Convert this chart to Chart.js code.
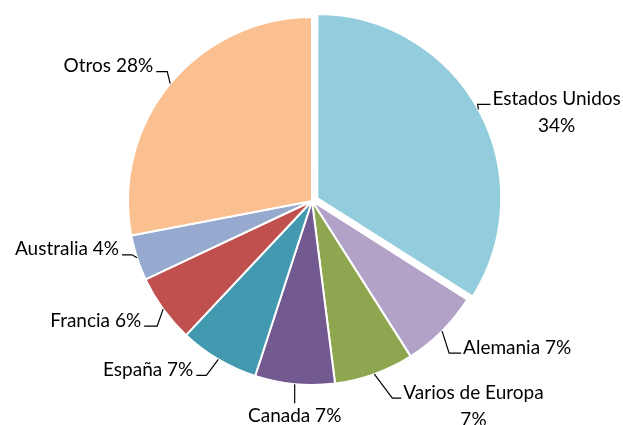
<!DOCTYPE html>
<html>
<head>
<meta charset="utf-8">
<script src="https://cdn.jsdelivr.net/npm/chart.js@4.4.0/dist/chart.umd.min.js"></script>
<style>
  html, body { margin: 0; padding: 0; background: #fff; }
  #wrap { width: 623px; height: 425px; }
</style>
</head>
<body>
<div id="wrap"><canvas id="pie" width="623" height="425"></canvas></div>
<script>
// --- DATA ---
const labels = ['Estados Unidos', 'Alemania', 'Varios de Europa', 'Canada', 'España', 'Francia', 'Australia', 'Otros'];
const shares = [34, 7, 7, 7, 7, 6, 4, 28];
const colors = ['#93CDDD', '#B3A2C7', '#8EA64F', '#725990', '#4399AF', '#C0504D', '#96AACF', '#FAC090'];
const explode = [6, 0, 0, 0, 0, 0, 0, 0]; // pixels the slice is pulled out

// label text lines (second line wraps like in the original)
const labelLines = [
    ['Estados Unidos', '34%'],
    ['Alemania 7%'],
    ['Varios de Europa', '7%'],
    ['Canada 7%'],
    ['España 7%'],
    ['Francia 6%'],
    ['Australia 4%'],
    ['Otros 28%']
];

// leader line shape per slice: elbow offset from the arc edge, then a short horizontal run
const leaders = [
    { elbow: [-1, -5], run: 13 },
    { elbow: [7, 22], run: 12 },
    { elbow: [18, 24], run: 9 },
    { elbow: [0, 19], run: 0, below: true },
    { elbow: [-12, 16], run: -10 },
    { elbow: [-6, 17], run: -13 },
    { elbow: [-5, -3], run: -10 },
    { elbow: [-3, -12], run: -11 }
];

const FONT = '19px Lato, "Open Sans", sans-serif';
const LINE_H = 27;

// Chart.js v4 moves an arc by offset/4 and grows it a little too;
// undo the growth so exploded slices keep the common radius
function growth(arc, i) {
    return (explode[i] || 0) * (1 - Math.sin(Math.min(Math.PI, arc.circumference || 0)));
}

const keepRadius = {
    id: 'keepRadius',
    afterDatasetUpdate(chart, args) {
        chart.getDatasetMeta(args.index).data.forEach((arc, i) => {
            arc.outerRadius -= growth(arc, i);
        });
    }
};

const leaderLabels = {
    id: 'leaderLabels',
    afterDatasetsDraw(chart) {
        const c = chart.ctx;
        const meta = chart.getDatasetMeta(0);
        c.save();
        c.font = FONT;
        c.fillStyle = '#000';
        c.strokeStyle = '#000';
        c.lineWidth = 1.2;
        meta.data.forEach((arc, i) => {
            const p = arc.getProps(['x', 'y', 'startAngle', 'endAngle', 'outerRadius']);
            const mid = (p.startAngle + p.endAngle) / 2;
            const r = p.outerRadius + growth(arc, i) + (explode[i] || 0);
            const ax = p.x + Math.cos(mid) * r;
            const ay = p.y + Math.sin(mid) * r;
            const ld = leaders[i];
            const ex = ax + ld.elbow[0];
            const ey = ay + ld.elbow[1];
            const hx = ex + ld.run;

            c.beginPath();
            c.moveTo(ax, ay);
            c.lineTo(ex, ey);
            c.lineTo(hx, ey);
            c.stroke();

            const lines = labelLines[i];
            c.textBaseline = 'alphabetic';
            if (ld.below) {
                c.textAlign = 'center';
                lines.forEach((t, k) => c.fillText(t, ex, ey + 19 + k * LINE_H));
                return;
            }
            const w0 = c.measureText(lines[0]).width;
            const left = ld.run >= 0 ? hx + 2 : hx - 3 - w0;
            c.textAlign = 'left';
            c.fillText(lines[0], left, ey + 0.5);
            c.textAlign = 'center';
            for (let k = 1; k < lines.length; k++) {
                c.fillText(lines[k], left + w0 / 2, ey + 0.5 + k * LINE_H);
            }
        });
        c.restore();
    }
};

new Chart(document.getElementById('pie'), {
    type: 'pie',
    data: {
        labels: labels,
        datasets: [{
            data: shares,
            backgroundColor: colors,
            borderColor: '#ffffff',
            borderWidth: 2,
            offset: explode.map(v => v * 4)
        }]
    },
    options: {
        responsive: false,
        animation: false,
        events: [],
        radius: 184,
        layout: { padding: { left: 1, top: 0, right: 0, bottom: 23 } },
        plugins: {
            legend: { display: false },
            tooltip: { enabled: false }
        }
    },
    plugins: [keepRadius, leaderLabels]
});
</script>
</body>
</html>
